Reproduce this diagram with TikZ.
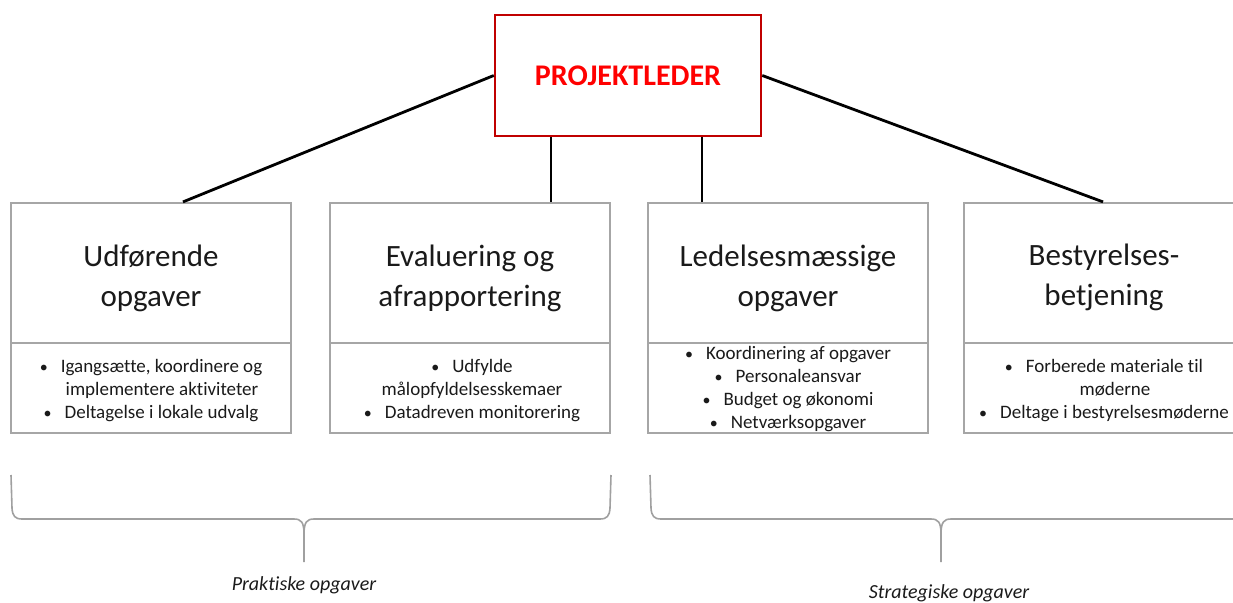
\documentclass[tikz,border=0pt]{standalone}
\usepackage{fontspec}
\setmainfont{Carlito}[Ligatures=NoCommon]
\definecolor{leadred}{HTML}{C00000}
\definecolor{leadtext}{HTML}{FF0000}
\definecolor{boxgray}{HTML}{A6A6A6}
\definecolor{bracegray}{HTML}{A0A0A0}
\definecolor{inktext}{HTML}{1A1A1A}
\newcommand\itm{{\fontsize{16}{16}\selectfont\textbullet}\hspace{13pt}}
\tikzset{
  leader/.style={draw=leadred, line width=2.5pt, fill=white, minimum width=266pt, minimum height=121pt,
    inner sep=0pt, text=leadtext, font=\fontsize{30}{36}\selectfont\bfseries},
  headbox/.style={draw=boxgray, line width=2.2pt, minimum width=280pt, minimum height=140pt, inner sep=0pt},
  headtext/.style={align=center, inner sep=0pt, text=inktext, font=\fontsize{31}{40}\selectfont},
  listbox/.style={draw=boxgray, line width=2.2pt, minimum width=280pt, minimum height=90pt, inner sep=0pt},
  listtext/.style={align=center, inner sep=0pt, text=inktext, font=\fontsize{19}{23}\selectfont},
  link/.style={draw=black, line width=2.8pt},
  brace/.style={draw=bracegray, line width=1.6pt},
  grouplabel/.style={inner sep=0pt, anchor=base, text=inktext, font=\fontsize{20}{24}\selectfont\itshape}
}
\begin{document}
\begin{tikzpicture}[x=1pt, y=-1pt]
\useasboundingbox (0,0) rectangle (1233,602);
\clip (0,0) rectangle (1233,602);

% leader box
\node[leader] (pl) at (628,75.5) {PROJEKTLEDER};

% four task boxes: heading part and list part
\node[headbox] (t1) at (151,273) {};
\node[headtext] (h1) at (151,278) {Udførende\\opgaver};
\node[listbox] (l1) at (151,388) {};
\node[listtext] (x1) at (151,390.5) {\itm Igangsætte, koordinere og\\\hspace*{22pt}implementere aktiviteter\\\itm Deltagelse i lokale udvalg};

\node[headbox] (t2) at (470,273) {};
\node[headtext] (h2) at (470,278) {Evaluering og\\afrapportering};
\node[listbox] (l2) at (470,388) {};
\node[listtext] (x2) at (472,390.5) {\itm Udfylde\\målopfyldelsesskemaer\\\itm Datadreven monitorering};

\node[headbox] (t3) at (788,273) {};
\node[headtext] (h3) at (788,278) {Ledelsesmæssige\\opgaver};
\node[listbox] (l3) at (788,388) {};
\node[listtext] (x3) at (788,389.5) {\itm Koordinering af opgaver\\\itm Personaleansvar\\\itm Budget og økonomi\\\itm Netværksopgaver};

\node[headbox] (t4) at (1104,273) {};
\node[headtext] (h4) at (1104,277) {Bestyrelses-\\betjening};
\node[listbox] (l4) at (1104,388) {};
\node[listtext] (x4) at (1104,390.5) {\itm Forberede materiale til\\\hspace*{22pt}møderne\\\itm Deltage i bestyrelsesmøderne};

% connectors from the leader to the boxes
\draw[link] (pl.west) -- ([xshift=32pt]t1.north);
\draw[link] ([xshift=-77pt]pl.south) -- ([xshift=-77pt]pl.south |- t2.north);
\draw[link] ([xshift=74pt]pl.south) -- ([xshift=74pt]pl.south |- t3.north);
\draw[link] (pl.east) -- ([xshift=-1pt]t4.north);

% braces grouping the boxes
\draw[brace] (11,475) -- (12,508) .. controls (12.5,516) and (15,519) .. (22,519)
  -- (294,519) .. controls (301,519) and (304,522) .. (304,534) -- (304,562);
\draw[brace] (611,475) -- (610,508) .. controls (609.5,516) and (607,519) .. (600,519)
  -- (314,519) .. controls (307,519) and (304,522) .. (304,534);
\node[grouplabel] (g1) at (304,590) {Praktiske opgaver};

\draw[brace] (650,475) -- (651,508) .. controls (651.5,516) and (654,519) .. (661,519)
  -- (931,519) .. controls (938,519) and (941,522) .. (941,534) -- (941,562);
\draw[brace] (1250,475) -- (1249,508) .. controls (1248.5,516) and (1246,519) .. (1239,519)
  -- (951,519) .. controls (944,519) and (941,522) .. (941,534);
\node[grouplabel] (g2) at (949,598) {Strategiske opgaver};
\end{tikzpicture}
\end{document}
